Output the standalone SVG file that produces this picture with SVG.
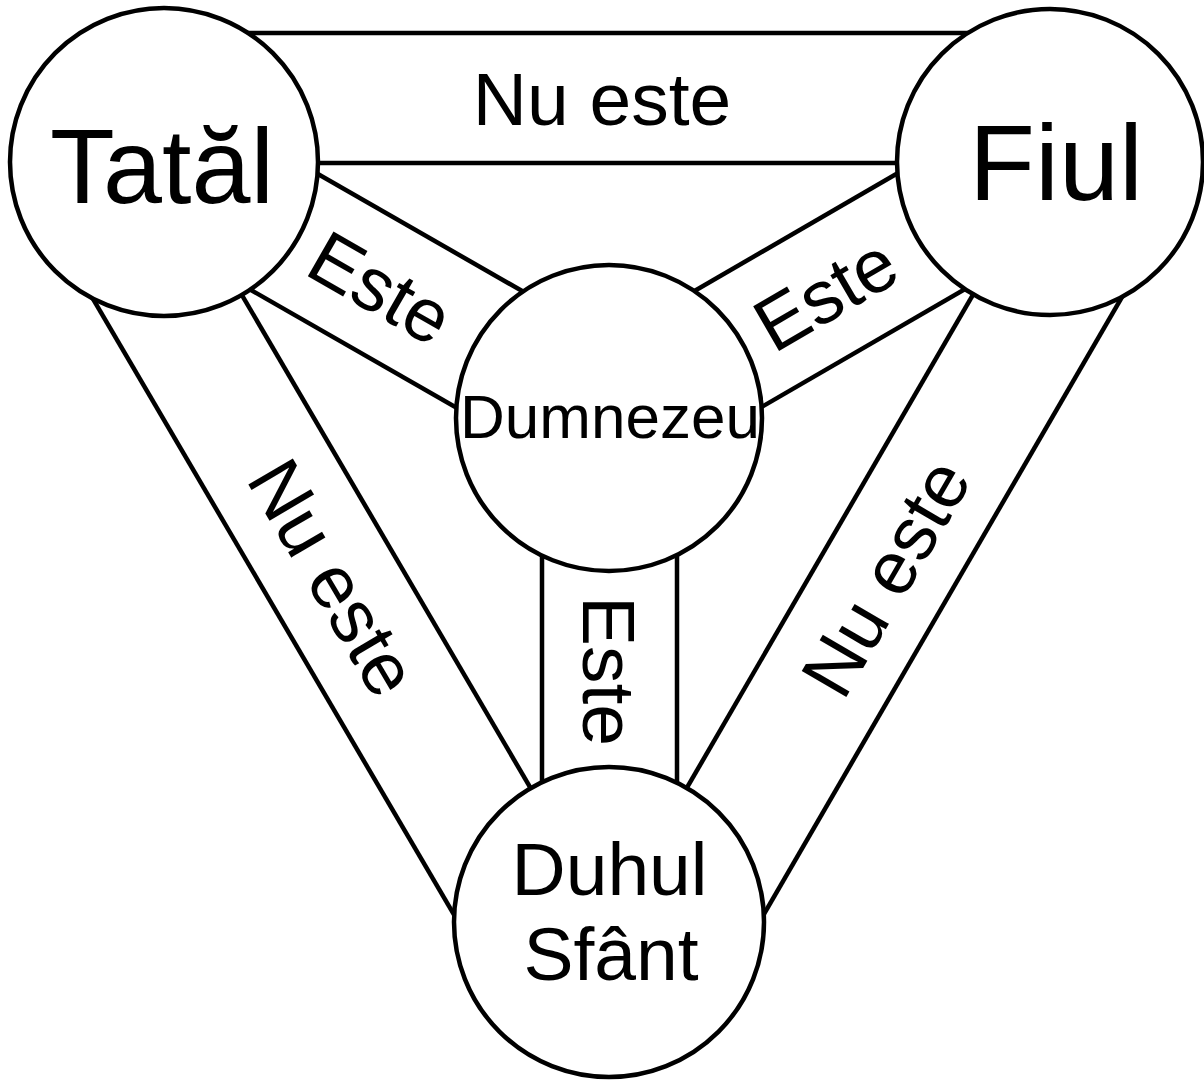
<svg xmlns="http://www.w3.org/2000/svg" width="1204" height="1083" viewBox="0 0 1204 1083">
<style>
.c{fill:#fff;stroke:#000;stroke-width:4.5}
.l{stroke:#000;stroke-width:4.5;fill:none}
text{font-family:"Liberation Sans",Arial,sans-serif;fill:#000;text-anchor:middle}
.lb{font-size:75px}
</style>
<rect width="1204" height="1083" fill="#fff"/>
<g id="connectors">
<line class="l" x1="164" y1="33" x2="1050" y2="33"/>
<line class="l" x1="164" y1="163" x2="1050" y2="163"/>
<line class="l" x1="197.3" y1="104.9" x2="642.3" y2="359.9"/>
<line class="l" x1="130.7" y1="221.1" x2="575.7" y2="476.1"/>
<line class="l" x1="1084" y1="220" x2="642.6" y2="476"/>
<line class="l" x1="1017" y1="104" x2="575.4" y2="360"/>
<line class="l" x1="542" y1="418" x2="542" y2="922"/>
<line class="l" x1="677" y1="418" x2="677" y2="922"/>
<line class="l" x1="164" y1="162" x2="609" y2="922"/>
<line class="l" x1="51.9" y1="228.8" x2="496.9" y2="987.8"/>
<line class="l" x1="1050" y1="162" x2="609" y2="922"/>
<line class="l" x1="1162.4" y1="227.4" x2="721.4" y2="987.4"/>
<text class="lb" x="602" y="125">Nu este</text>
<text class="lb" transform="translate(381,287) rotate(29.8)" y="27">Este</text>
<text class="lb" transform="translate(825,293) rotate(-30.1)" y="27">Este</text>
<text class="lb" transform="translate(610,671) rotate(90)" y="27">Este</text>
<text class="lb" transform="translate(334,577) rotate(59.6)" y="27">Nu este</text>
<text class="lb" transform="translate(885,577) rotate(-59.8)" y="27">Nu este</text>
</g>
<g id="tatal">
<circle class="c" cx="164" cy="162" r="154"/>
<text x="162" y="203" font-size="106">Tatăl</text>
</g>
<g id="fiul">
<circle class="c" cx="1050" cy="162" r="153"/>
<text x="1056" y="200" font-size="108">Fiul</text>
</g>
<g id="dumnezeu">
<circle class="c" cx="609" cy="418" r="153"/>
<text x="610" y="438" font-size="62">Dumnezeu</text>
</g>
<g id="duhul">
<circle class="c" cx="609" cy="922" r="155"/>
<text class="lb" x="609.5" y="895">Duhul</text>
<text class="lb" x="611" y="980">Sfânt</text>
</g>
</svg>
